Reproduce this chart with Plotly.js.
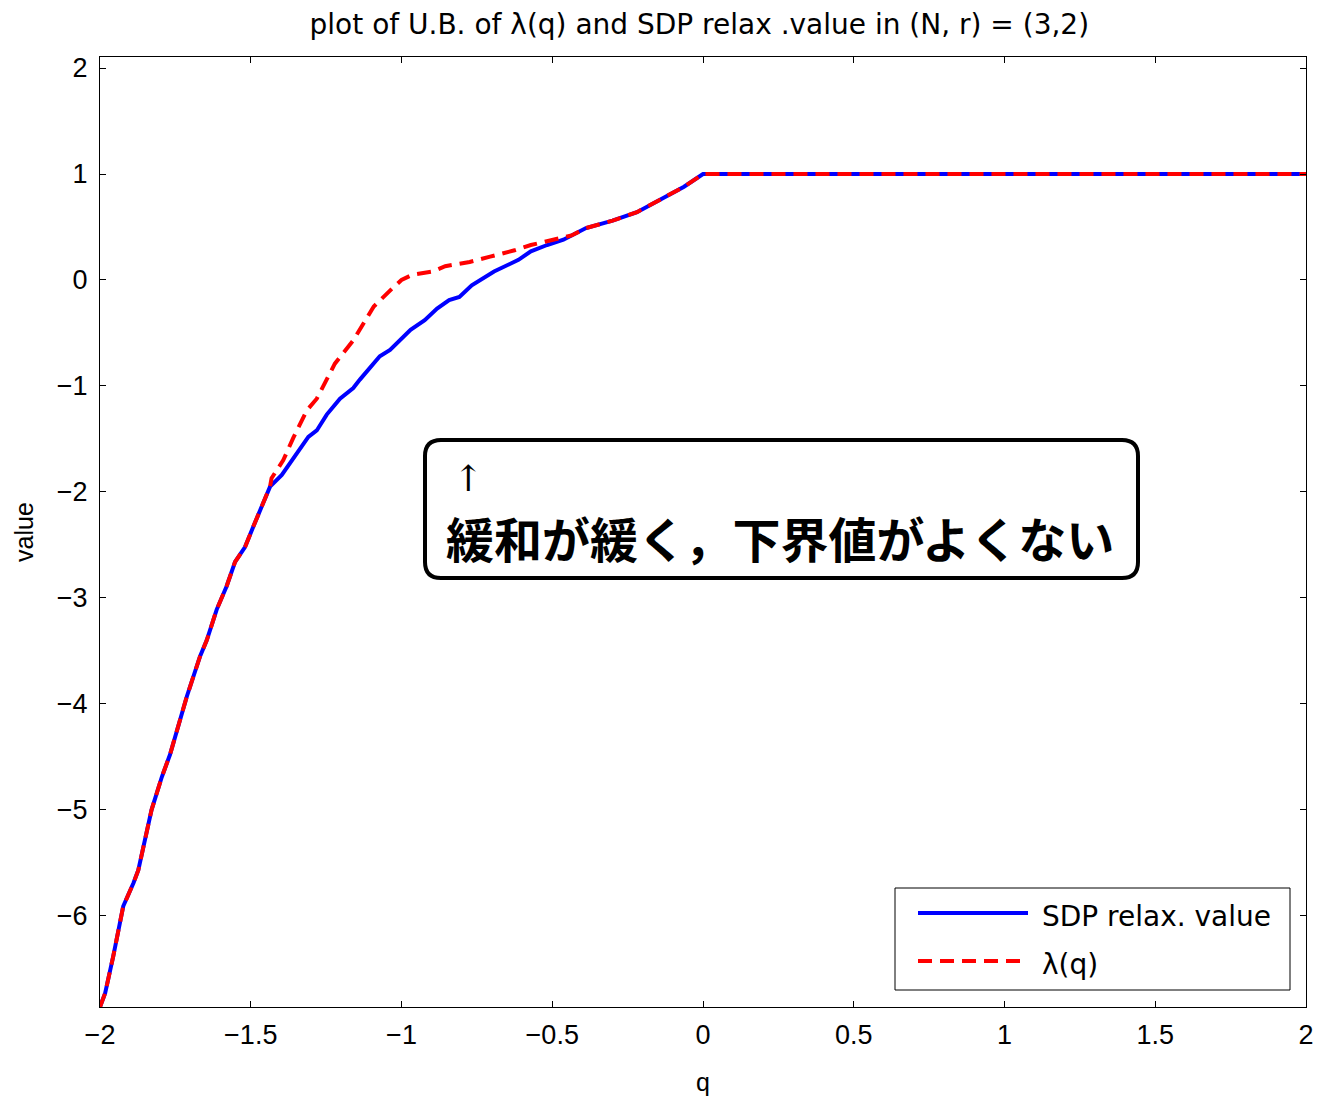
<!DOCTYPE html>
<html>
<head>
<meta charset="utf-8">
<script src="https://cdn.plot.ly/plotly-3.0.1.min.js"></script>
<style>html,body{margin:0;padding:0;background:#fff;}#chart{width:1317px;height:1098px;}</style>
</head>
<body>
<div id="chart"></div>
<script>
// SDP relaxation value (blue solid)
const qSdp = [-2, -1.983, -1.956, -1.923, -1.889, -1.873, -1.829, -1.795, -1.768, -1.735, -1.712, -1.668, -1.646, -1.613, -1.58, -1.552, -1.519, -1.492, -1.464, -1.436, -1.397, -1.359, -1.309, -1.281, -1.248, -1.204, -1.16, -1.138, -1.072, -1.038, -0.97, -0.923, -0.882, -0.842, -0.808, -0.767, -0.693, -0.612, -0.571, -0.517, -0.463, -0.388, -0.3, -0.219, -0.124, -0.063, 0, 2];
const vSdp = [-6.86, -6.73, -6.38, -5.91, -5.69, -5.57, -5.00, -4.69, -4.48, -4.15, -3.93, -3.55, -3.40, -3.11, -2.89, -2.66, -2.52, -2.33, -2.14, -1.95, -1.84, -1.68, -1.48, -1.42, -1.27, -1.12, -1.02, -0.94, -0.72, -0.66, -0.47, -0.38, -0.27, -0.19, -0.16, -0.05, 0.08, 0.19, 0.27, 0.33, 0.38, 0.49, 0.56, 0.64, 0.79, 0.88, 1, 1];
// upper bound of lambda(q) (red dashed)
const qLam = [-2, -1.983, -1.956, -1.923, -1.889, -1.873, -1.829, -1.795, -1.768, -1.735, -1.712, -1.668, -1.646, -1.613, -1.58, -1.552, -1.519, -1.492, -1.464, -1.436, -1.431, -1.392, -1.359, -1.314, -1.281, -1.248, -1.221, -1.16, -1.092, -1.031, -1.0, -0.964, -0.896, -0.855, -0.774, -0.706, -0.625, -0.571, -0.503, -0.436, -0.388, -0.3, -0.219, -0.124, -0.063, 0, 2];
const vLam = [-6.86, -6.73, -6.38, -5.91, -5.69, -5.57, -5.00, -4.69, -4.48, -4.15, -3.93, -3.55, -3.40, -3.11, -2.89, -2.66, -2.52, -2.33, -2.14, -1.95, -1.87, -1.70, -1.49, -1.23, -1.12, -0.94, -0.79, -0.57, -0.25, -0.08, 0.0, 0.05, 0.08, 0.13, 0.17, 0.22, 0.28, 0.33, 0.38, 0.42, 0.49, 0.56, 0.64, 0.79, 0.88, 1, 1];

const xTicks = [-2, -1.5, -1, -0.5, 0, 0.5, 1, 1.5, 2];
const yTicks = [-6, -5, -4, -3, -2, -1, 0, 1, 2];
const legendNames = ['SDP relax. value', 'λ(q)'];
const titleText = 'plot of U.B. of λ(q) and SDP relax .value in (N, r) = (3,2)';
const noteArrow = '↑';
const noteText = '緩和が緩く，下界値がよくない';

const baseFont = 'Liberation Sans, Arial, sans-serif';
const wideFont = 'DejaVu Sans, sans-serif';

const traces = [
  {x: qSdp, y: vSdp, type: 'scatter', mode: 'lines', name: legendNames[0],
   line: {color: '#0000ff', width: 4}, showlegend: false},
  {x: qLam, y: vLam, type: 'scatter', mode: 'lines', name: legendNames[1],
   line: {color: '#ff0000', width: 4, dash: '14px,8px'}, showlegend: false}
];

// rounded rectangle for the note (paper coords)
function roundRect(x0, y0, x1, y1, rx, ry) {
  return `M${x0+rx},${y0} L${x1-rx},${y0} Q${x1},${y0} ${x1},${y0+ry} L${x1},${y1-ry} Q${x1},${y1} ${x1-rx},${y1} L${x0+rx},${y1} Q${x0},${y1} ${x0},${y1-ry} L${x0},${y0+ry} Q${x0},${y0} ${x0+rx},${y0} Z`;
}
const px = v => (v - 100) / 1206;
const py = v => (1007 - v) / 950;

const layout = {
  width: 1317, height: 1098,
  paper_bgcolor: '#ffffff', plot_bgcolor: '#ffffff',
  margin: {l: 100, r: 11, t: 57, b: 91},
  showlegend: false,
  title: {text: titleText, x: 0.531, xanchor: 'center', y: 0.978, yanchor: 'middle',
          font: {family: wideFont, size: 28, color: '#000'}},
  xaxis: {range: [-2, 2], tickvals: xTicks, ticks: 'inside', ticklen: 6, tickcolor: '#000',
          showline: true, linecolor: '#000', linewidth: 1, mirror: 'ticks', showgrid: false, zeroline: false,
          ticklabelstandoff: 4,
          tickfont: {family: baseFont, size: 27, color: '#000'},
          title: {text: 'q', font: {family: baseFont, size: 25, color: '#000'}, standoff: 24}},
  yaxis: {range: [-6.86, 2.104], tickvals: yTicks, ticks: 'inside', ticklen: 6, tickcolor: '#000',
          showline: true, linecolor: '#000', linewidth: 1, mirror: 'ticks', showgrid: false, zeroline: false,
          ticklabelstandoff: 6,
          tickfont: {family: baseFont, size: 27, color: '#000'},
          title: {text: 'value', font: {family: baseFont, size: 25, color: '#000'}, standoff: 16}},
  shapes: [
    {type: 'path', xref: 'paper', yref: 'paper',
     path: roundRect(px(425), py(578), px(1138), py(440), 16/1206, 16/950),
     line: {color: '#000', width: 4}, fillcolor: '#ffffff'},
    {type: 'rect', xref: 'paper', yref: 'paper', x0: px(895), x1: px(1290), y0: py(990), y1: py(888),
     line: {color: '#000', width: 1}, fillcolor: '#ffffff'},
    {type: 'line', xref: 'paper', yref: 'paper', x0: px(918), x1: px(1028), y0: py(913), y1: py(913),
     line: {color: '#0000ff', width: 4}},
    {type: 'line', xref: 'paper', yref: 'paper', x0: px(918), x1: px(1028), y0: py(961), y1: py(961),
     line: {color: '#ff0000', width: 4, dash: '14px,8px'}}
  ],
  annotations: [
    {xref: 'paper', yref: 'paper', x: px(468), y: py(478), text: noteArrow, showarrow: false,
     xanchor: 'center', yanchor: 'middle', font: {family: 'DejaVu Serif, serif', size: 36, color: '#000'}},
    {xref: 'paper', yref: 'paper', x: px(444), y: py(537), text: '<b>' + noteText + '</b>', showarrow: false,
     xanchor: 'left', yanchor: 'middle', font: {family: 'Noto Sans CJK JP', size: 48, color: '#000'}},
    {xref: 'paper', yref: 'paper', x: px(1040), y: py(916), text: legendNames[0], showarrow: false,
     xanchor: 'left', yanchor: 'middle', font: {family: wideFont, size: 28, color: '#000'}},
    {xref: 'paper', yref: 'paper', x: px(1040), y: py(964), text: legendNames[1], showarrow: false,
     xanchor: 'left', yanchor: 'middle', font: {family: wideFont, size: 28, color: '#000'}}
  ]
};

Plotly.newPlot('chart', traces, layout, {displayModeBar: false, staticPlot: true});
</script>
</body>
</html>
